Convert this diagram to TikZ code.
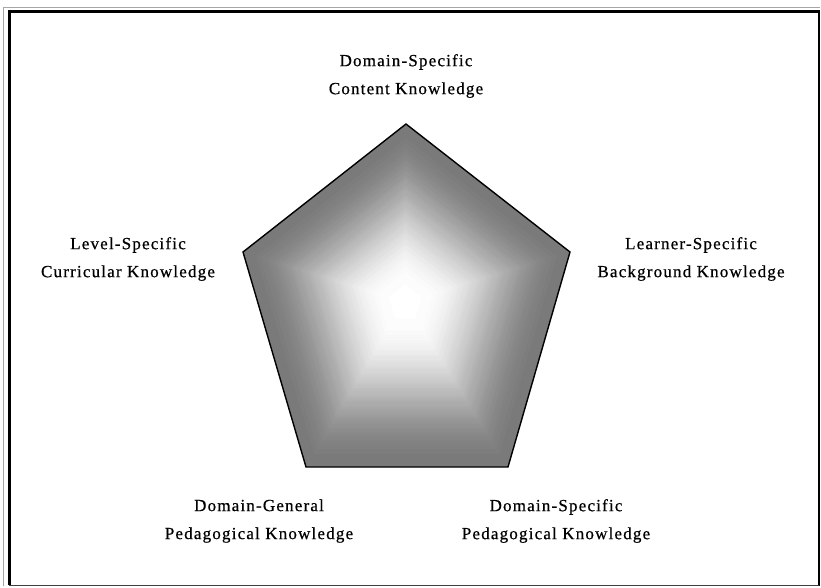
\documentclass[tikz,border=0pt]{standalone}
\usepackage{fontspec}
\newfontfamily\lblfont{Liberation Serif}[LetterSpace=7,FakeBold=0.6]
\usetikzlibrary{calc}
\tikzset{
  lbl/.style={align=center, inner sep=0pt, font=\lblfont\fontsize{17}{28}\selectfont},
  pentedge/.style={draw=black, line width=1.4pt, line join=miter},
}
\begin{document}
\begin{tikzpicture}[x=1pt,y=-1pt]
\useasboundingbox (0,0) rectangle (821,587);
\fill[white] (0,0) rectangle (821,587);
% frame
\draw[gray!70, line width=1pt] (3.5,586) -- (3.5,7.5) -- (820,7.5);
\draw[black, line width=3pt] (9.5,585) -- (9.5,11) -- (819,11);
\draw[black, line width=1.5pt] (819,10) -- (819,586);
\draw[black!75, line width=1.5pt] (9,585.5) -- (819,585.5);
% pentagon vertices
\coordinate (T) at (406,124);
\coordinate (UR) at (570,252);
\coordinate (BR) at (508,467);
\coordinate (BL) at (306,467);
\coordinate (UL) at (243,252);
\coordinate (C) at (405,302);
\foreach \i in {0,...,99}{
  \pgfmathsetmacro\s{1-\i/100}
  \pgfmathsetmacro\t{min(1,(1-\s)/0.9)}
  \pgfmathtruncatemacro\w{48+52*(3*\t*\t-2*\t*\t*\t)}
  \fill[white!\w!black] ($(C)!\s!(T)$) -- ($(C)!\s!(UR)$) -- ($(C)!\s!(BR)$) -- ($(C)!\s!(BL)$) -- ($(C)!\s!(UL)$) -- cycle;
}
\draw[pentedge] (T) -- (UR) -- (BR) -- (BL) -- (UL) -- cycle;
% labels
\node[lbl] (top) at (406,76) {Domain-Specific\\Content Knowledge};
\node[lbl] (left) at (128,259) {Level-Specific\\Curricular Knowledge};
\node[lbl] (right) at (691,259) {Learner-Specific\\Background Knowledge};
\node[lbl] (bl) at (259,521) {Domain-General\\Pedagogical Knowledge};
\node[lbl] (br) at (556,521) {Domain-Specific\\Pedagogical Knowledge};
\end{tikzpicture}
\end{document}
